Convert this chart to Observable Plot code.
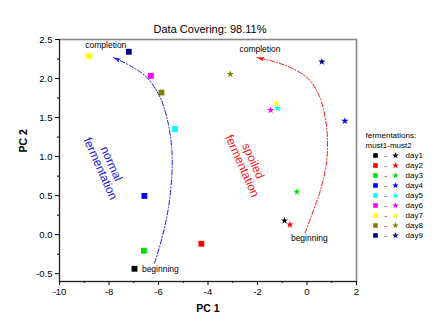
<!DOCTYPE html>
<html><head><meta charset="utf-8">
<script src="https://cdn.jsdelivr.net/npm/d3@7"></script>
<script src="https://cdn.jsdelivr.net/npm/@observablehq/plot@0.6"></script>
<style>
html,body{margin:0;padding:0;background:#fff;}
#wrap{position:relative;width:435px;height:336px;overflow:hidden;background:#fff;}
#main{position:absolute;left:0;top:0;}
#legend{position:absolute;left:360px;top:127px;}
</style></head><body><div id="wrap"><div id="main"></div><div id="legend"></div></div>
<script>
const title = "Data Covering: 98.11%";
const days = ["day1","day2","day3","day4","day5","day6","day7","day8","day9"];
const colors = ["#000000","#ff0000","#00e000","#0000ff","#00ffff","#ff00ff","#ffff00","#808000","#000080"];
const must1X = [-6.97,-4.27,-6.59,-6.57,-5.33,-6.31,-8.80,-5.88,-7.20];
const must1Y = [-0.437,-0.116,-0.206,0.496,1.353,2.035,2.288,1.820,2.343];
const must2X = [-0.91,-0.69,-0.41,1.53,-1.19,-1.47,-1.23,-3.10,0.60];
const must2Y = [0.180,0.128,0.548,1.456,1.620,1.594,1.675,2.057,2.215];
const xDomain = [-10, 2];
const yDomain = [-0.6, 2.5];
const xMajor = [-10,-8,-6,-4,-2,0,2];
const xMinor = [-9,-7,-5,-3,-1,1];
const yMajor = [-0.5,0,0.5,1,1.5,2,2.5];
const yMinor = [-0.25,0.25,0.75,1.25,1.75,2.25];
const leftArcX = [-6.16,-5.86,-5.60,-5.46,-5.46,-5.60,-5.93,-6.47,-7.14,-7.82];
const leftArcY = [-0.365,-0.044,0.342,0.771,1.071,1.414,1.756,2.013,2.163,2.270];
const rightArcX = [-0.073,0.198,0.533,0.776,0.828,0.735,0.465,-0.004,-0.679,-1.354,-2.024];
const rightArcY = [0.021,0.257,0.557,0.900,1.199,1.499,1.800,2.013,2.141,2.218,2.270];
const annoLabels = ["completion","beginning","completion","beginning"];
const annoX = [-8.13,-6.67,-1.90,-0.65];
const annoY = [2.42,-0.437,2.378,-0.051];
const annoAnchor = ["middle","start","middle","start"];
const ferLabels = ["normal\nfermentation","spoiled\nfermentation"];
const ferX = [-8.13,-2.40];
const ferY = [0.878,0.913];
const ferColors = ["#1a1ad6","#ee1c1c"];
const legendHeaders = ["fermentations:","must1-must2"];

const W = 435, H = 336, mL = 59, mR = 79, mT = 39, mB = 55;
const font = "'Liberation Sans', Arial, sans-serif";
const kx = (W - mL - mR) / (xDomain[1] - xDomain[0]);
const ky = (H - mT - mB) / (yDomain[1] - yDomain[0]);
function headAngle(xs, ys) {
  const n = xs.length;
  const dx = (xs[n-1] - xs[n-2]) * kx;
  const dy = -(ys[n-1] - ys[n-2]) * ky;
  return Math.atan2(dx, -dy) * 180 / Math.PI;
}
const arrowHead = {draw(ctx) { ctx.moveTo(0,0); ctx.lineTo(2.3,7.5); ctx.lineTo(0,5.8); ctx.lineTo(-2.3,7.5); ctx.closePath(); }};

const must1 = days.map((d,i) => ({day:d, x:must1X[i], y:must1Y[i]}));
const must2 = days.map((d,i) => ({day:d, x:must2X[i], y:must2Y[i]}));
const leftArc = leftArcX.map((x,i) => ({x, y:leftArcY[i]}));
const rightArc = rightArcX.map((x,i) => ({x, y:rightArcY[i]}));
const heads = [
  {x: leftArcX.at(-1), y: leftArcY.at(-1), a: headAngle(leftArcX, leftArcY), c: ferColors[0]},
  {x: rightArcX.at(-1), y: rightArcY.at(-1), a: headAngle(rightArcX, rightArcY), c: ferColors[1]}
];
const annos = annoLabels.map((t,i) => ({t, x:annoX[i], y:annoY[i], a:annoAnchor[i]}));
const fers = ferLabels.map((t,i) => ({t, x:ferX[i], y:ferY[i], c:ferColors[i]}));
const fmtY = d => d.toFixed(1);
const fmtX = d => String(d);

const chart = Plot.plot({
  width: W, height: H,
  marginLeft: mL, marginRight: mR, marginTop: mT, marginBottom: mB,
  x: {domain: xDomain, axis: null},
  y: {domain: yDomain, axis: null},
  color: {domain: days, range: colors},
  style: {fontFamily: font, fontSize: "9.5px", background: "#fff", color: "#000"},
  marks: [
    Plot.frame({stroke: "#888", strokeWidth: 1.6}),
    Plot.ruleX([xDomain[0]], {stroke: "#222", strokeWidth: 1}),
    Plot.ruleY([yDomain[0]], {stroke: "#222", strokeWidth: 1}),
    Plot.axisX(xMajor, {tickSize: 4, tickPadding: 3, tickFormat: fmtX, label: null, fontSize: 9.5}),
    Plot.axisX(xMinor, {tickSize: 2, tickFormat: () => "", label: null}),
    Plot.axisY(yMajor, {tickSize: 4, tickPadding: 3, tickFormat: fmtY, label: null, fontSize: 9.5}),
    Plot.axisY(yMinor, {tickSize: 2, tickFormat: () => "", label: null}),
    Plot.line(leftArc, {x: "x", y: "y", curve: "catmull-rom", stroke: ferColors[0], strokeWidth: 1, strokeDasharray: "5,2,1,2"}),
    Plot.line(rightArc, {x: "x", y: "y", curve: "catmull-rom", stroke: ferColors[1], strokeWidth: 1, strokeDasharray: "5,2,1,2"}),
    Plot.dot(heads, {x: "x", y: "y", rotate: "a", fill: d => d.c, symbol: arrowHead, r: 3, stroke: "none"}),
    Plot.dot(must1, {x: "x", y: "y", fill: "day", symbol: "square", r: 3.3}),
    Plot.dot(must2, {x: "x", y: "y", fill: "day", symbol: "star", r: 2.3}),
    Plot.text(annos.filter(d => d.a === "middle"), {x: "x", y: "y", text: "t", textAnchor: "middle", fontSize: 8.5, fill: "#000"}),
    Plot.text(annos.filter(d => d.a === "start"), {x: "x", y: "y", text: "t", textAnchor: "start", fontSize: 8.5, fill: "#000"}),
    Plot.text(fers, {x: "x", y: "y", text: "t", fill: d => d.c, rotate: 66, fontSize: 12, lineAnchor: "middle", textAnchor: "middle"}),
    Plot.text([title], {frameAnchor: "top", dy: -14, dx: 2, fontSize: 11, fill: "#000"}),
    Plot.text(["PC 1"], {frameAnchor: "bottom", dy: 30, fontSize: 10.5, fontWeight: "bold", fill: "#000"}),
    Plot.text(["PC 2"], {frameAnchor: "left", dx: -36, dy: -8, rotate: -90, fontSize: 10.5, fontWeight: "bold", fill: "#000"})
  ]
});
document.getElementById("main").append(chart);

const rows = legendHeaders.concat(days);
const legend = Plot.plot({
  width: 75, height: 120, margin: 0,
  x: {type: "point", domain: ["sq","dash","star","label"], range: [15,45], padding: 0, axis: null},
  y: {type: "point", domain: rows, range: [6,110.5], padding: 0, axis: null},
  color: {domain: days, range: colors},
  style: {fontFamily: font, fontSize: "8px", background: "transparent", color: "#000"},
  marks: [
    Plot.dot(days, {x: () => "sq", y: d => d, fill: d => d, symbol: "square", r: 2.6}),
    Plot.text(days, {x: () => "dash", y: d => d, text: () => "-"}),
    Plot.dot(days, {x: () => "star", y: d => d, fill: d => d, symbol: "star", r: 2.1}),
    Plot.text(days, {x: () => "label", y: d => d, text: d => d, textAnchor: "start", dx: 0}),
    Plot.text(legendHeaders, {y: d => d, text: d => d, frameAnchor: "left", textAnchor: "start", dx: 5})
  ]
});
document.getElementById("legend").append(legend);
</script>
</body></html>
